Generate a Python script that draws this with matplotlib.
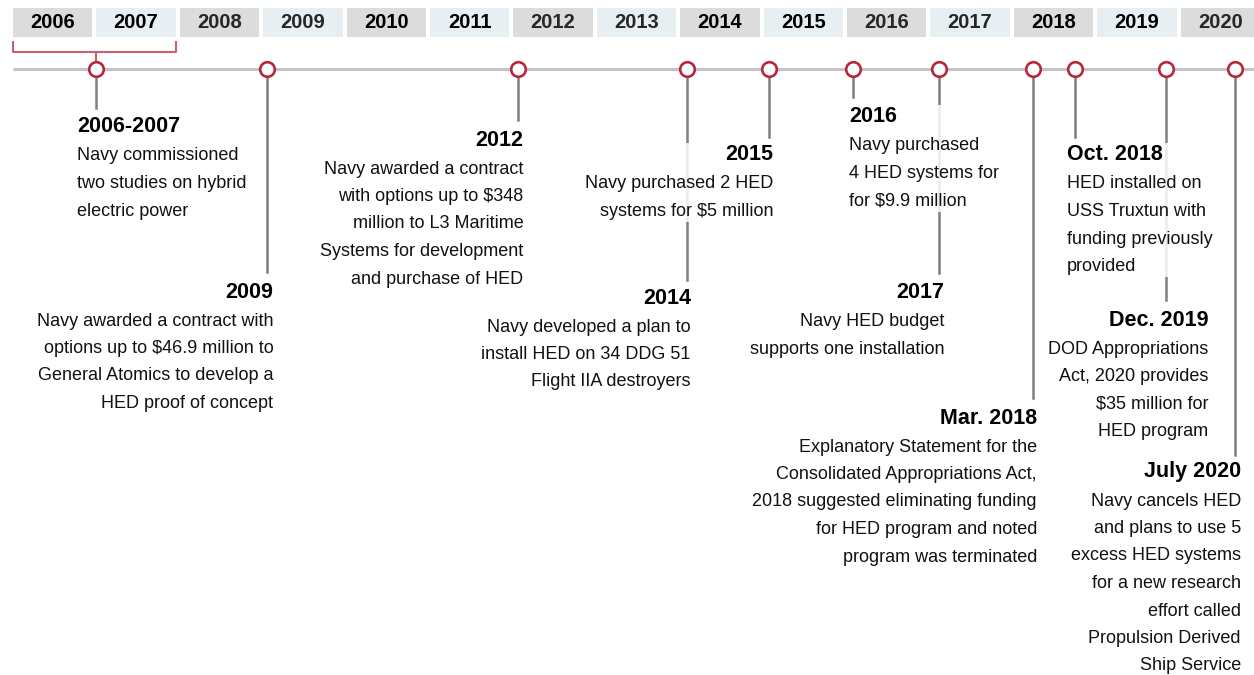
import matplotlib
matplotlib.use("Agg")
import matplotlib.pyplot as plt
from matplotlib.patches import Rectangle

plt.rcParams['font.family'] = ['Liberation Sans', 'DejaVu Sans']

# ---------------- data ----------------
years = list(range(2006, 2021))
year_labels = [str(y) for y in years]

event_titles = ["2006-2007", "2009", "2012", "2014", "2015", "2016", "2017",
                "Mar. 2018", "Oct. 2018", "Dec. 2019", "July 2020"]
event_pos = [2007.0, 2009.05, 2012.05, 2014.08, 2015.06, 2016.07, 2017.1,
             2018.23, 2018.73, 2019.82, 2020.65]
event_text = [
    ["Navy commissioned", "two studies on hybrid", "electric power"],
    ["Navy awarded a contract with", "options up to $46.9 million to",
     "General Atomics to develop a", "HED proof of concept"],
    ["Navy awarded a contract", "with options up to $348", "million to L3 Maritime",
     "Systems for development", "and purchase of HED"],
    ["Navy developed a plan to", "install HED on 34 DDG 51", "Flight IIA destroyers"],
    ["Navy purchased 2 HED", "systems for $5 million"],
    ["Navy purchased", "4 HED systems for", "for $9.9 million"],
    ["Navy HED budget", "supports one installation"],
    ["Explanatory Statement for the", "Consolidated Appropriations Act,",
     "2018 suggested eliminating funding", "for HED program and noted",
     "program was terminated"],
    ["HED installed on", "USS Truxtun with", "funding previously", "provided"],
    ["DOD Appropriations", "Act, 2020 provides", "$35 million for", "HED program"],
    ["Navy cancels HED", "and plans to use 5", "excess HED systems",
     "for a new research", "effort called", "Propulsion Derived", "Ship Service"],
]

# layout (pixels): alignment, x offset from marker, heading y, stem end y
event_align = ['left', 'right', 'right', 'right', 'right', 'left', 'right',
               'right', 'left', 'right', 'right']
event_dx = [-19, 6, 6, 4, 5, -4, 6, 4, -8, 43, 6]
event_head_y = [127, 292, 140, 298, 155, 117, 293, 418, 155, 320, 472]
event_stem_end = [108, 272, 120, 280, 137, 97, 273, 398, 137, 300, 455]

# ---------------- style ----------------
W, H = 1254, 675
PX_PER_YEAR = 83.4
X0 = 2006 - 13 / PX_PER_YEAR
X1 = X0 + W / PX_PER_YEAR
TIMELINE_Y = 69
RED = '#b5283b'
BRACKET = '#c9616f'
STEM = '#7f7f7f'
LINE = '#c4c4c4'
BOX_COLORS = ['#dcdcdc', '#e7eff3']
LINE_SP = 27.5
GAP = 4 / PX_PER_YEAR

fig = plt.figure(figsize=(W / 100, H / 100), dpi=100)
ax = fig.add_axes([0, 0, 1, 1])
ax.set_xlim(X0, X1)
ax.set_ylim(H, 0)
ax.axis('off')

# year header boxes
for i, (y, lab) in enumerate(zip(years, year_labels)):
    ax.add_patch(Rectangle((y, 8), 1 - GAP, 29, facecolor=BOX_COLORS[i % 2],
                           edgecolor='none', zorder=1))
    col = '#000000' if (i % 4) in (0, 1) else '#262626'
    ax.text(y + (1 - GAP) / 2, 23, lab, ha='center', va='center',
            fontsize=14.5, fontweight='bold', color=col, zorder=2)

# bracket for 2006-2007
ax.plot([2006, 2006, 2008 - GAP, 2008 - GAP], [41, 52, 52, 41], color=BRACKET,
        lw=1.5, zorder=2, solid_capstyle='butt')
ax.plot([event_pos[0], event_pos[0]], [52, TIMELINE_Y], color=BRACKET, lw=1.5, zorder=2)

# timeline
ax.plot([2006, X1], [TIMELINE_Y, TIMELINE_Y], color=LINE, lw=2.2, zorder=2,
        solid_capstyle='butt')

# stems and markers
for x, ye in zip(event_pos, event_stem_end):
    ax.plot([x, x], [TIMELINE_Y, ye], color=STEM, lw=1.8, zorder=1)
ax.scatter(event_pos, [TIMELINE_Y] * len(event_pos), s=110, facecolor='white',
           edgecolor=RED, linewidths=1.9, zorder=5)

# texts
groups = []
for x, title, lines, al, dx, hy in zip(event_pos, event_titles, event_text,
                                       event_align, event_dx, event_head_y):
    tx = x + dx / PX_PER_YEAR
    ts = [ax.text(tx, hy, title, ha=al, va='center', fontsize=15.5,
                  fontweight='bold', color='black', zorder=4)]
    for k, ln in enumerate(lines):
        ts.append(ax.text(tx, hy + 29 + k * LINE_SP, ln, ha=al, va='center',
                          fontsize=13, color='#111111', zorder=4))
    groups.append(ts)

# translucent white panels behind each text block
fig.canvas.draw()
r = fig.canvas.get_renderer()
inv = ax.transData.inverted()
for ts in groups:
    bbs = [t.get_window_extent(r) for t in ts]
    x0 = min(b.x0 for b in bbs); x1 = max(b.x1 for b in bbs)
    y0 = min(b.y0 for b in bbs); y1 = max(b.y1 for b in bbs)
    (dx0, dy0) = inv.transform((x0 - 3, y0 - 2))
    (dx1, dy1) = inv.transform((x1 + 3, y1 + 2))
    ax.add_patch(Rectangle((min(dx0, dx1), min(dy0, dy1)), abs(dx1 - dx0),
                           abs(dy1 - dy0), facecolor='white', alpha=0.85,
                           edgecolor='none', zorder=3))

fig.savefig('out.png', dpi=100)
